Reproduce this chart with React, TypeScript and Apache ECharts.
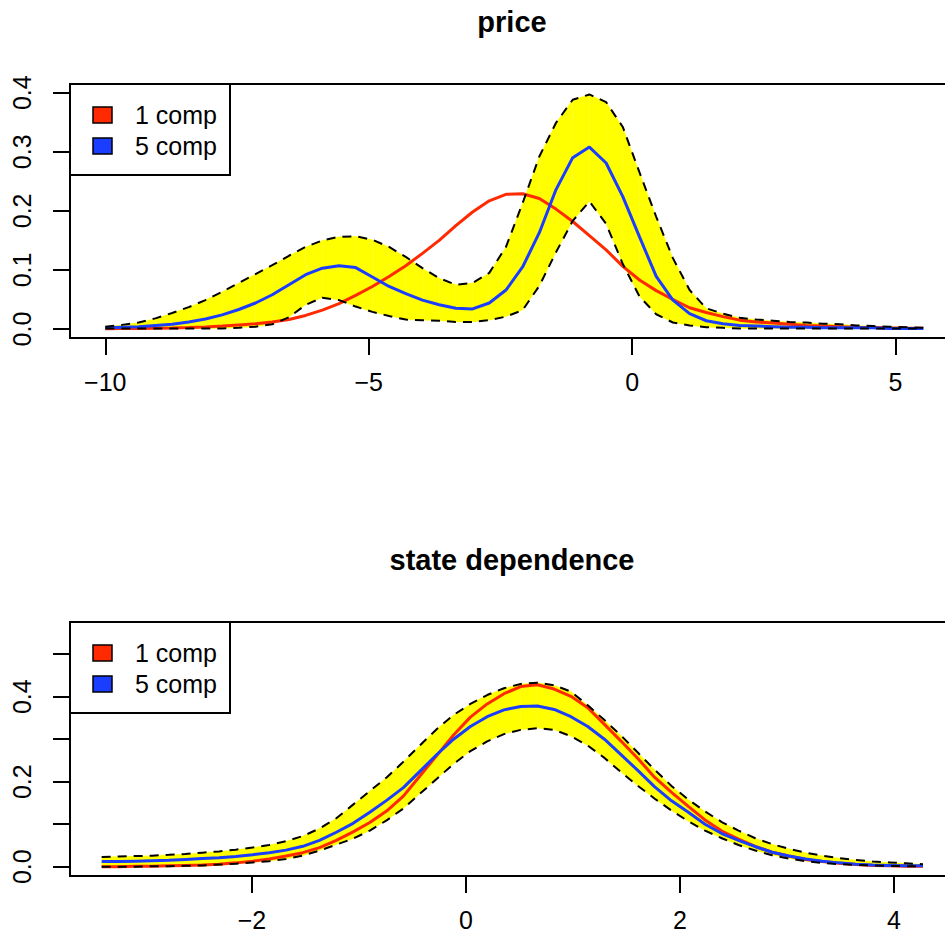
import React, { useEffect, useRef } from "react";
import * as echarts from "echarts";

// ---------- data: panel 1 "price" ----------
const priceX = [
  -10.0, -9.683, -9.366, -9.049, -8.732, -8.416, -8.099, -7.782, -7.465, -7.148,
  -6.831, -6.514, -6.197, -5.88, -5.563, -5.247, -4.93, -4.613, -4.296, -3.979,
  -3.662, -3.345, -3.028, -2.711, -2.394, -2.078, -1.761, -1.444, -1.127, -0.81,
  -0.493, -0.176, 0.141, 0.458, 0.775, 1.092, 1.408, 1.725, 2.042, 2.359,
  2.676, 2.993, 3.31, 3.627, 3.944, 4.261, 4.577, 4.894, 5.211, 5.528,
];
const priceOneComp = [
  0.0005, 0.0007, 0.001, 0.0013, 0.0018, 0.0025, 0.0035, 0.005, 0.007, 0.009,
  0.012, 0.016, 0.023, 0.032, 0.043, 0.057, 0.072, 0.089, 0.107, 0.128,
  0.15, 0.175, 0.198, 0.217, 0.228, 0.229, 0.221, 0.203, 0.182, 0.158,
  0.134, 0.106, 0.083, 0.065, 0.05, 0.036, 0.028, 0.021, 0.015, 0.012,
  0.01, 0.008, 0.006, 0.005, 0.004, 0.003, 0.0025, 0.002, 0.0017, 0.0015,
];
const priceFiveComp = [
  0.002, 0.003, 0.004, 0.006, 0.008, 0.012, 0.017, 0.024, 0.033, 0.044,
  0.058, 0.075, 0.092, 0.103, 0.107, 0.104, 0.088, 0.072, 0.06, 0.049,
  0.041, 0.035, 0.034, 0.044, 0.066, 0.105, 0.163, 0.236, 0.29, 0.308,
  0.281, 0.224, 0.156, 0.089, 0.049, 0.026, 0.014, 0.009, 0.006, 0.005,
  0.004, 0.003, 0.003, 0.002, 0.002, 0.002, 0.002, 0.001, 0.001, 0.001,
];
const priceUpper = [
  0.004, 0.007, 0.011, 0.018, 0.027, 0.037, 0.049, 0.063, 0.078, 0.093,
  0.108, 0.124, 0.139, 0.15, 0.156, 0.157, 0.151, 0.139, 0.122, 0.103,
  0.086, 0.075, 0.078, 0.095, 0.139, 0.213, 0.292, 0.349, 0.388, 0.397,
  0.384, 0.342, 0.265, 0.19, 0.12, 0.066, 0.035, 0.026, 0.019, 0.016,
  0.014, 0.012, 0.011, 0.009, 0.008, 0.006, 0.005, 0.004, 0.003, 0.002,
];
const priceLower = [
  0.001, 0.001, 0.001, 0.001, 0.001, 0.001, 0.001, 0.001, 0.002, 0.004,
  0.008, 0.02, 0.041, 0.053, 0.049, 0.038, 0.029, 0.022, 0.016, 0.015,
  0.014, 0.012, 0.012, 0.015, 0.021, 0.032, 0.073, 0.13, 0.183, 0.216,
  0.178, 0.11, 0.055, 0.025, 0.011, 0.006, 0.003, 0.002, 0.001, 0.001,
  0.001, 0.001, 0.001, 0.001, 0.001, 0.001, 0.001, 0.001, 0.001, 0.001,
];

// ---------- data: panel 2 "state dependence" ----------
const stateX = [
  -3.405, -3.248, -3.092, -2.935, -2.778, -2.622, -2.465, -2.308, -2.152, -1.995,
  -1.839, -1.682, -1.525, -1.369, -1.212, -1.055, -0.899, -0.742, -0.585, -0.429,
  -0.272, -0.116, 0.041, 0.198, 0.355, 0.511, 0.668, 0.824, 0.981, 1.138,
  1.294, 1.451, 1.608, 1.764, 1.921, 2.078, 2.234, 2.391, 2.547, 2.704,
  2.861, 3.017, 3.174, 3.331, 3.487, 3.644, 3.801, 3.957, 4.114, 4.271,
];
const stateOneComp = [
  0.0, 0.0, 0.001, 0.001, 0.002, 0.003, 0.004, 0.006, 0.009, 0.013,
  0.018, 0.025, 0.033, 0.045, 0.062, 0.082, 0.104, 0.131, 0.166, 0.214,
  0.262, 0.31, 0.352, 0.383, 0.407, 0.424, 0.428, 0.418, 0.401, 0.374,
  0.335, 0.295, 0.254, 0.21, 0.175, 0.142, 0.11, 0.084, 0.065, 0.048,
  0.034, 0.025, 0.017, 0.012, 0.008, 0.005, 0.003, 0.002, 0.001, 0.001,
];
const stateFiveComp = [
  0.012, 0.012, 0.013, 0.014, 0.015, 0.017, 0.019, 0.021, 0.024, 0.028,
  0.033, 0.039, 0.048, 0.062, 0.081, 0.102, 0.128, 0.156, 0.186, 0.225,
  0.264, 0.3, 0.33, 0.353, 0.369, 0.377, 0.378, 0.37, 0.353, 0.33,
  0.3, 0.263, 0.226, 0.188, 0.155, 0.128, 0.1, 0.078, 0.062, 0.047,
  0.034, 0.025, 0.018, 0.013, 0.009, 0.006, 0.004, 0.003, 0.002, 0.002,
];
const stateUpper = [
  0.023, 0.024, 0.025, 0.026, 0.028, 0.03, 0.033, 0.036, 0.04, 0.045,
  0.051, 0.06, 0.072, 0.09, 0.114, 0.146, 0.178, 0.21, 0.247, 0.286,
  0.324, 0.357, 0.383, 0.404, 0.42, 0.43, 0.433, 0.427, 0.412, 0.38,
  0.345, 0.308, 0.268, 0.228, 0.19, 0.158, 0.13, 0.105, 0.085, 0.067,
  0.053, 0.042, 0.033, 0.026, 0.02, 0.016, 0.012, 0.01, 0.008, 0.006,
];
const stateLower = [
  0.0, 0.0, 0.0, 0.001, 0.001, 0.002, 0.003, 0.005, 0.007, 0.01,
  0.013, 0.018, 0.026, 0.038, 0.052, 0.066, 0.085, 0.109, 0.137, 0.172,
  0.207, 0.242, 0.272, 0.295, 0.312, 0.322, 0.326, 0.322, 0.307, 0.285,
  0.256, 0.222, 0.19, 0.16, 0.132, 0.107, 0.085, 0.067, 0.051, 0.038,
  0.027, 0.019, 0.013, 0.009, 0.006, 0.004, 0.003, 0.002, 0.001, 0.001,
];

// ---------- ticks / labels ----------
const priceXTicks = [-10, -5, 0, 5];
const priceYTicks = [0, 0.1, 0.2, 0.3, 0.4];
const stateXTicks = [-2, 0, 2, 4];
const stateYTicks = [0, 0.1, 0.2, 0.3, 0.4, 0.5];
const stateYLabels = [0, 0.2, 0.4];
const legendNames = ["1 comp", "5 comp"];
const panelTitles = ["price", "state dependence"];

const RED = "#FF2A00";
const BLUE = "#1A3DFF";
const YELLOW = "#FFFF00";
const FONT = "Liberation Sans, Arial, Helvetica, sans-serif";

const pair = (xs: number[], ys: number[]) => xs.map((x, i) => [x, ys[i]]);

function panelSeries(
  idx: number,
  xs: number[],
  one: number[],
  five: number[],
  upper: number[],
  lower: number[]
) {
  const common = {
    type: "line",
    xAxisIndex: idx,
    yAxisIndex: idx,
    symbol: "none",
    showSymbol: false,
    smooth: false,
    silent: true,
  };
  return [
    {
      type: "custom",
      name: "band-" + idx,
      xAxisIndex: idx,
      yAxisIndex: idx,
      silent: true,
      z: 1,
      encode: { x: 0, y: [1, 2] },
      data: xs.map((x, i) => [x, lower[i], upper[i]]),
      renderItem: (params: any, api: any) => {
        const i = params.dataIndex;
        if (i >= xs.length - 1) return null;
        const pts = [
          api.coord([xs[i], lower[i]]),
          api.coord([xs[i + 1], lower[i + 1]]),
          api.coord([xs[i + 1], upper[i + 1]]),
          api.coord([xs[i], upper[i]]),
        ];
        return {
          type: "polygon",
          shape: { points: pts },
          style: { fill: YELLOW, stroke: YELLOW, lineWidth: 0.3 },
        };
      },
    },
    {
      ...common,
      name: legendNames[0],
      data: pair(xs, one),
      lineStyle: { color: RED, width: 3 },
      itemStyle: { color: RED },
      z: 3,
    },
    {
      ...common,
      name: legendNames[1],
      data: pair(xs, five),
      lineStyle: { color: BLUE, width: 3 },
      itemStyle: { color: BLUE },
      z: 4,
    },
    {
      ...common,
      name: "upper-" + idx,
      data: pair(xs, upper),
      lineStyle: { color: "#000", width: 2, type: [9, 7] },
      z: 5,
    },
    {
      ...common,
      name: "lower-" + idx,
      data: pair(xs, lower),
      lineStyle: { color: "#000", width: 2, type: [9, 7] },
      z: 5,
    },
  ];
}

const fmtX = (v: number) => String(v).replace("-", "\u2212");

function xAxis(idx: number, min: number, max: number, ticks: number[]) {
  return {
    type: "value",
    gridIndex: idx,
    position: "bottom",
    min,
    max,
    axisLine: { show: false, onZero: false },
    splitLine: { show: false },
    axisTick: {
      show: true,
      inside: false,
      length: 17,
      customValues: ticks,
      lineStyle: { color: "#000", width: 2 },
    },
    axisLabel: {
      show: true,
      customValues: ticks,
      formatter: fmtX,
      margin: 31,
      color: "#000",
      fontSize: 25,
      fontFamily: FONT,
    },
  };
}

function yAxis(idx: number, min: number, max: number, ticks: number[], labels: number[]) {
  return {
    type: "value",
    gridIndex: idx,
    position: "left",
    min,
    max,
    axisLine: { show: false, onZero: false },
    splitLine: { show: false },
    axisTick: {
      show: true,
      inside: false,
      length: 17,
      customValues: ticks,
      lineStyle: { color: "#000", width: 2 },
    },
    axisLabel: {
      show: true,
      customValues: labels,
      rotate: 90,
      formatter: (v: number) => v.toFixed(1),
      margin: 36,
      color: "#000",
      fontSize: 25,
      fontFamily: FONT,
    },
  };
}

function legendGraphic(top: number) {
  const items: any[] = [
    {
      type: "rect",
      shape: { x: 70, y: top, width: 160, height: 91 },
      style: { fill: "#fff", stroke: "#000", lineWidth: 2 },
      z: 100,
    },
  ];
  const colors = [RED, BLUE];
  legendNames.forEach((name, i) => {
    const cy = top + 31 + i * 31;
    items.push({
      type: "rect",
      shape: { x: 93, y: cy - 8, width: 19, height: 16 },
      style: { fill: colors[i], stroke: "#000", lineWidth: 1.5 },
      z: 101,
    });
    items.push({
      type: "text",
      x: 135,
      y: cy,
      style: {
        text: name,
        fill: "#000",
        font: "25px " + FONT,
        align: "left",
        verticalAlign: "middle",
        textAlign: "left",
        textVerticalAlign: "middle",
      },
      z: 101,
    });
  });
  return items;
}

function titleGraphic(text: string, y: number) {
  return {
    type: "text",
    x: 512,
    y,
    style: {
      text,
      fill: "#000",
      font: "bold 29px " + FONT,
      align: "center",
      verticalAlign: "middle",
      textAlign: "center",
      textVerticalAlign: "middle",
    },
    z: 100,
  };
}

export default function App() {
  const ref = useRef<HTMLDivElement>(null);
  useEffect(() => {
    if (!ref.current) return;
    const chart = echarts.init(ref.current, null, { renderer: "svg" });
    chart.setOption({
      animation: false,
      backgroundColor: "#fff",
      textStyle: { fontFamily: FONT },
      grid: [
        {
          left: 70,
          top: 84,
          width: 885,
          height: 254,
          show: true,
          borderColor: "#000",
          borderWidth: 2,
          backgroundColor: "transparent",
        },
        {
          left: 70,
          top: 622,
          width: 887,
          height: 254,
          show: true,
          borderColor: "#000",
          borderWidth: 2,
          backgroundColor: "transparent",
        },
      ],
      xAxis: [
        xAxis(0, -10.67, 6.13, priceXTicks),
        xAxis(1, -3.701, 4.589, stateXTicks),
      ],
      yAxis: [
        yAxis(0, -0.0152, 0.4147, priceYTicks, priceYTicks),
        yAxis(1, -0.0219, 0.5758, stateYTicks, stateYLabels),
      ],
      series: [
        ...panelSeries(0, priceX, priceOneComp, priceFiveComp, priceUpper, priceLower),
        ...panelSeries(1, stateX, stateOneComp, stateFiveComp, stateUpper, stateLower),
      ],
      graphic: [
        titleGraphic(panelTitles[0], 22),
        titleGraphic(panelTitles[1], 560),
        ...legendGraphic(84),
        ...legendGraphic(622),
      ],
    });
    return () => chart.dispose();
  }, []);
  return (
    <div
      style={{
        position: "absolute",
        left: 0,
        top: 0,
        width: 945,
        height: 941,
        overflow: "hidden",
        background: "#fff",
      }}
    >
      <div ref={ref} style={{ width: 980, height: 941 }} />
    </div>
  );
}
